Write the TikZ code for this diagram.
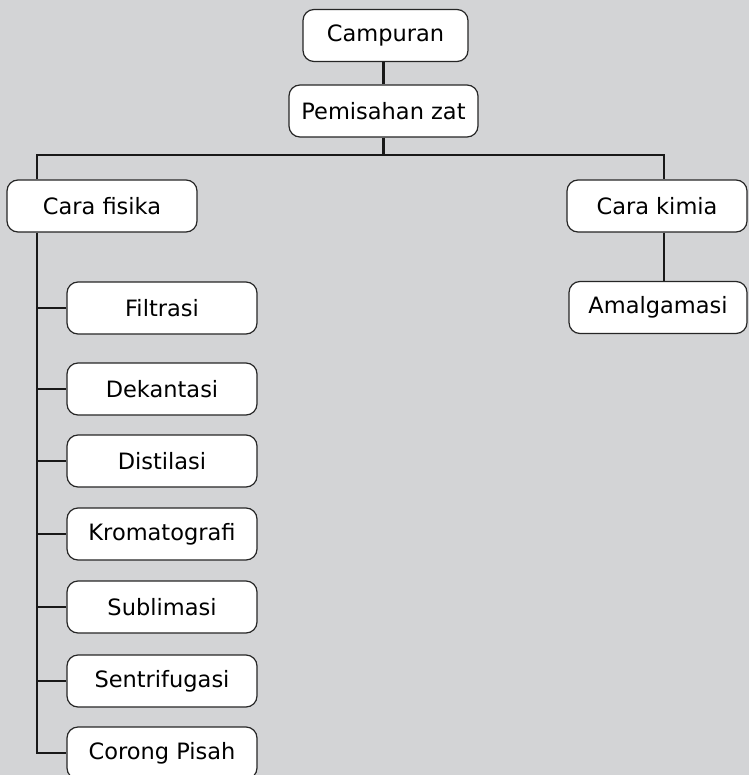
\documentclass[tikz,border=0pt]{standalone}
\usepackage{fontspec}
\setmainfont{DejaVu Sans}
\begin{document}
\begin{tikzpicture}[x=1pt,y=-1pt,
  box/.style={draw=black!85, line width=1.2pt, fill=white, rounded corners=11pt,
    minimum height=52pt, inner sep=0pt, font=\fontsize{22.5}{26}\selectfont},
  conn/.style={draw=black!90, line width=2.8pt}]
  % background
  \fill[fill={rgb,255:red,211;green,212;blue,214}] (0,0) rectangle (749,775);
  \useasboundingbox (0,0) rectangle (749,775);

  % top of the tree
  \node[box, minimum width=165pt] (camp) at (385.5,35.5) {Campuran};
  \node[box, minimum width=189pt] (pem) at (383.5,111) {Pemisahan zat};

  % the two methods
  \node[box, minimum width=190pt] (fis) at (102,206) {Cara fisika};
  \node[box, minimum width=180pt] (kim) at (657,206) {Cara kimia};
  \node[box, minimum width=178pt] (amal) at (658,307.5) {Amalgamasi};

  % physical methods
  \node[box, minimum width=190pt] (filt) at (162,308) {Filtrasi};
  \node[box, minimum width=190pt] (dek) at (162,389) {Dekantasi};
  \node[box, minimum width=190pt] (dist) at (162,461) {Distilasi};
  \node[box, minimum width=190pt] (krom) at (162,534) {Kromatografi};
  \node[box, minimum width=190pt] (subl) at (162,607) {Sublimasi};
  \node[box, minimum width=190pt] (sent) at (162,681) {Sentrifugasi};
  \node[box, minimum width=190pt] (cor) at (162,753) {Corong Pisah};

  % bus coordinates
  \coordinate (busL) at (37,155);
  \coordinate (busR) at (664,155);

  % connectors
  \draw[conn] (camp.south -| pem.north) -- (pem.north);
  \draw[conn] (pem.south) -- (pem.south |- busL);
  \draw[conn] (fis.north -| busL) -- (busL) -- (busR) -- (kim.north -| busR);
  \draw[conn] (kim.south -| busR) -- (amal.north -| busR);
  \draw[conn] (fis.south -| busL) -- (busL |- cor.west) -- (cor.west);
  \foreach \c in {filt,dek,dist,krom,subl,sent}
    \draw[conn] (busL |- \c.west) -- (\c.west);
\end{tikzpicture}
\end{document}
